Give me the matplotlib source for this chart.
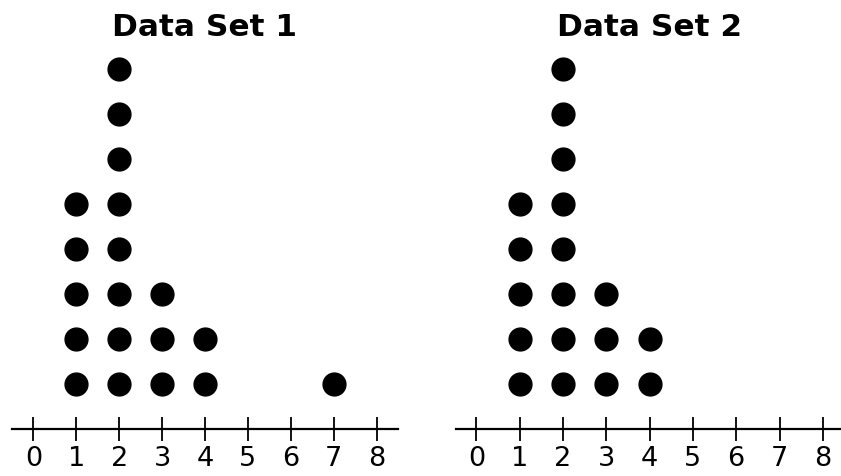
import matplotlib
matplotlib.use("Agg")
import matplotlib.pyplot as plt

titles = ["Data Set 1", "Data Set 2"]
values_1 = [1, 2, 3, 4, 7]
counts_1 = [5, 8, 3, 2, 1]
values_2 = [1, 2, 3, 4]
counts_2 = [5, 8, 3, 2]
tick_values = list(range(0, 9))
tick_labels = [str(v) for v in tick_values]

W, H = 841, 476
fig = plt.figure(figsize=(W / 100, H / 100), dpi=100)

axis_y_px = 429
unit_y = 45.0
ymax = axis_y_px / unit_y

panels = [
    (12, 398, -0.5, 8.5, values_1, counts_1, titles[0]),
    (456, 841, -0.47, 8.42, values_2, counts_2, titles[1]),
]

for left_px, right_px, x0, x1, vals, cnts, title in panels:
    ax = fig.add_axes([left_px / W, (H - axis_y_px) / H,
                       (right_px - left_px) / W, axis_y_px / H])
    ax.set_xlim(x0, x1)
    ax.set_ylim(0, ymax)
    xs, ys = [], []
    for v, c in zip(vals, cnts):
        for k in range(1, c + 1):
            xs.append(v)
            ys.append(k)
    ax.scatter(xs, ys, s=270, color="black", clip_on=False, zorder=3)
    for s in ["top", "right", "left"]:
        ax.spines[s].set_visible(False)
    ax.spines["bottom"].set_linewidth(1.6)
    ax.set_yticks([])
    ax.set_xticks(tick_values)
    ax.set_xticklabels(tick_labels, fontsize=19.5, family="DejaVu Sans")
    ax.tick_params(axis="x", direction="inout", length=17, width=1.3, pad=3.5)
    ax.patch.set_alpha(0)
    cx = (left_px + (0 - x0) / (x1 - x0) * (right_px - left_px)
          + left_px + (8 - x0) / (x1 - x0) * (right_px - left_px)) / 2
    fig.text(cx / W, 1 - 27 / H, title, ha="center", va="center",
             fontsize=22.5, fontweight="bold", family="DejaVu Sans")

fig.savefig("out.png", dpi=100)
